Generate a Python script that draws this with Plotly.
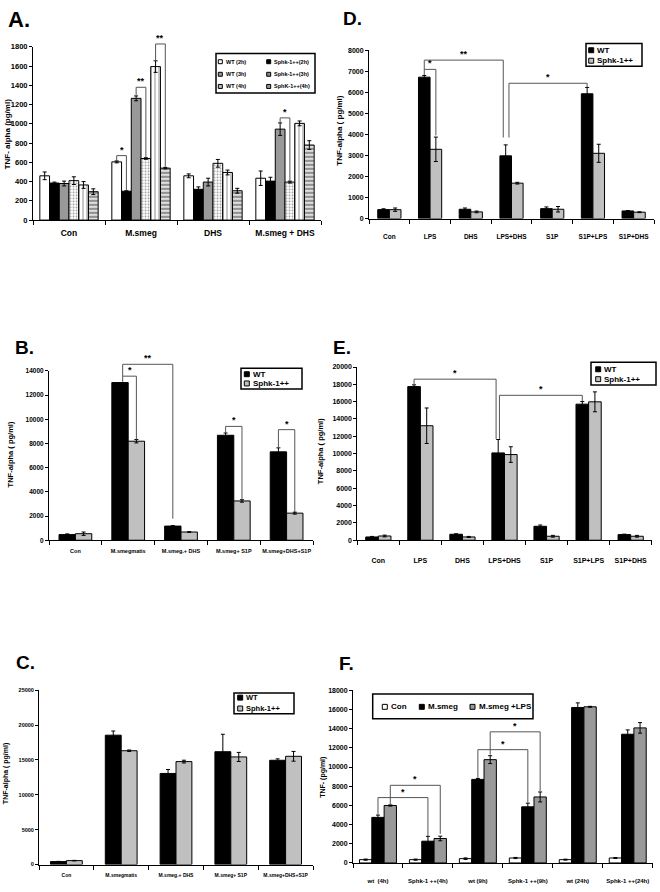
import plotly.graph_objects as go

W, H = 660, 892
FONT = "Liberation Sans"

# ---------------- DATA ----------------
# Panel A
a_cats = ["Con", "M.smeg", "DHS", "M.smeg + DHS"]
a_wt2h = [460, 605, 460, 435]
a_wt2h_err = [40, 10, 20, 75]
a_sp2h = [385, 300, 320, 405]
a_sp2h_err = [10, 5, 25, 40]
a_wt3h = [380, 1265, 395, 945]
a_wt3h_err = [25, 25, 40, 65]
a_sp3h = [410, 640, 590, 395]
a_sp3h_err = [40, 8, 40, 10]
a_wt4h = [365, 1595, 495, 1005]
a_wt4h_err = [35, 60, 25, 25]
a_sp4h = [295, 540, 305, 780]
a_sp4h_err = [30, 8, 25, 45]

# Panel D
d_cats = ["Con", "LPS", "DHS", "LPS+DHS", "S1P", "S1P+LPS", "S1P+DHS"]
d_wt = [423, 6720, 440, 2980, 470, 5930, 360]
d_wt_err = [40, 80, 60, 520, 80, 300, 20]
d_sp = [420, 3290, 315, 1680, 440, 3100, 300]
d_sp_err = [80, 580, 40, 40, 130, 430, 20]

# Panel B
b_cats = ["Con", "M.smegmatis", "M.smeg.+ DHS", "M.smeg+ S1P", "M.smeg+DHS+S1P"]
b_wt = [464, 13040, 1170, 8680, 7310]
b_wt_err = [60, 0, 40, 190, 330]
b_sp = [540, 8190, 680, 3250, 2240]
b_sp_err = [140, 140, 30, 100, 80]

# Panel E
e_cats = ["Con", "LPS", "DHS", "LPS+DHS", "S1P", "S1P+LPS", "S1P+DHS"]
e_wt = [380, 17740, 690, 10080, 1610, 15710, 650]
e_wt_err = [60, 200, 60, 1550, 150, 300, 50]
e_sp = [490, 13220, 380, 9890, 460, 15980, 460]
e_sp_err = [100, 2050, 60, 900, 100, 1150, 100]

# Panel C
c_cats = ["Con", "M.smegmatis", "M.smeg.+ DHS", "M.smeg+ S1P", "M.smeg+DHS+S1P"]
c_wt = [426, 18560, 13070, 16190, 14960]
c_wt_err = [30, 600, 570, 2500, 200]
c_sp = [560, 16330, 14770, 15440, 15530]
c_sp_err = [40, 100, 200, 650, 700]

# Panel F
f_cats = ["wt  (4h)", "Sphk-1 ++(4h)", "wt (9h)", "Sphk-1 ++(9h)", "wt (24h)", "Sphk-1 ++(24h)"]
f_con = [344, 344, 447, 516, 344, 516]
f_con_err = [60, 60, 80, 60, 50, 50]
f_ms = [4750, 2270, 8710, 5850, 16210, 13420]
f_ms_err = [240, 500, 100, 380, 480, 450]
f_lps = [5990, 2550, 10770, 6880, 16280, 14080]
f_lps_err = [60, 240, 410, 520, 50, 550]

# ---------------- HELPERS ----------------
fig = go.Figure()
shapes = []
annotations = []


def X(p):
    return p / W


def Y(p):
    return 1 - p / H


def bold(size):
    return dict(family=FONT, size=size, color="black", weight="bold")


def add_panel(n, cats, series, box, ymax, dtick, bargap, xfont, yfont, standoff,
              brackets, letter, ytitle, legend):
    x0, x1, yt, yb = box
    ax = "" if n == 1 else str(n)
    nser = len(series)
    w = (1 - bargap) / nser
    centers = []
    for k, s in enumerate(series):
        off = -(1 - bargap) / 2 + k * w
        centers.append(off + w / 2)
        marker = dict(color=s["color"], line=dict(color="black", width=1))
        if s.get("pattern"):
            marker["pattern"] = s["pattern"]
        fig.add_trace(go.Bar(
            x=cats, y=s["y"], name=s["name"], width=w, offset=off,
            marker=marker,
            error_y=dict(type="data", array=s["err"], visible=True, color="black",
                         thickness=1, width=2),
            xaxis="x" + ax, yaxis="y" + ax, showlegend=False,
        ))
    fig.layout["xaxis" + ax] = dict(
        domain=[X(x0), X(x1)], anchor="y" + ax, type="category",
        range=[-0.5, len(cats) - 0.5], showline=True, linecolor="black", linewidth=1,
        ticks="outside", tickson="boundaries", ticklen=4, tickcolor="black",
        tickangle=0, tickfont=bold(xfont), ticklabelstandoff=int(standoff),
        showgrid=False, zeroline=False)
    fig.layout["yaxis" + ax] = dict(
        domain=[Y(yb), Y(yt)], anchor="x" + ax, range=[0, ymax],
        dtick=dtick, tick0=0, tickformat="d", showline=True, linecolor="black",
        linewidth=1, ticks="outside", ticklen=3, tickcolor="black",
        tickfont=bold(yfont), showgrid=False, zeroline=False)

    # significance brackets
    for br in brackets:
        (cl, bl, sl), (cr, brr, sr), yl, ytop, yr, lab = br
        xl = cl + centers[bl] + sl
        xr = cr + centers[brr] + sr
        fl, ft, fr = yl / ymax, ytop / ymax, yr / ymax
        lc = dict(color="#555555", width=1)
        for (xa, ya, xb, yb2) in [(xl, fl, xl, ft), (xl, ft, xr, ft), (xr, ft, xr, fr)]:
            shapes.append(dict(type="line", xref="x" + ax, yref="y" + ax + " domain",
                               x0=xa, y0=ya, x1=xb, y1=yb2, line=lc, layer="above"))
        annotations.append(dict(x=(xl + xr) / 2, y=ft, xref="x" + ax,
                                yref="y" + ax + " domain", text=lab, showarrow=False,
                                yanchor="bottom", yshift=-1, font=bold(9)))

    # panel letter
    lx, ly, lsize, ltext = letter
    annotations.append(dict(x=X(lx), y=Y(ly), xref="paper", yref="paper",
                            text=ltext, showarrow=False, xanchor="left",
                            yanchor="middle", font=bold(lsize)))
    # y title
    tx, ty, tsize, ttext = ytitle
    annotations.append(dict(x=X(tx), y=Y(ty), xref="paper", yref="paper",
                            text=ttext, showarrow=False, textangle=-90,
                            xanchor="center", yanchor="middle", font=bold(tsize)))
    # legend (drawn manually)
    (bx0, by0, bx1, by1), fsize, sw, entries = legend
    shapes.append(dict(type="rect", xref="paper", yref="paper", x0=X(bx0),
                       x1=X(bx1), y0=Y(by1), y1=Y(by0),
                       line=dict(color="black", width=1.5), fillcolor="white",
                       layer="above"))
    for (sx, sy, col, label) in entries:
        shapes.append(dict(type="rect", xref="paper", yref="paper", x0=X(sx),
                           x1=X(sx + sw), y0=Y(sy + sw / 2), y1=Y(sy - sw / 2),
                           line=dict(color="black", width=1), fillcolor=col,
                           layer="above"))
        annotations.append(dict(x=X(sx + sw + 1.5), y=Y(sy), xref="paper",
                                yref="paper", text=label, showarrow=False,
                                xanchor="left", yanchor="middle", font=bold(fsize)))


WT_C, SP_C, GR_C = "#000000", "#c0c0c0", "#999999"

# ---------------- PANEL A ----------------
a_series = [
    dict(name="WT (2h)", y=a_wt2h, err=a_wt2h_err, color="white"),
    dict(name="Sphk-1++(2h)", y=a_sp2h, err=a_sp2h_err, color="black"),
    dict(name="WT (3h)", y=a_wt3h, err=a_wt3h_err, color=GR_C),
    dict(name="Sphk-1++(3h)", y=a_sp3h, err=a_sp3h_err, color="white",
         pattern=dict(shape=".", fgcolor="#444444", bgcolor="white", size=3, solidity=0.35)),
    dict(name="WT (4h)", y=a_wt4h, err=a_wt4h_err, color="white",
         pattern=dict(shape="|", fgcolor="#222222", bgcolor="white", size=4, solidity=0.25)),
    dict(name="SphK-1++(4h)", y=a_sp4h, err=a_sp4h_err, color="white",
         pattern=dict(shape="-", fgcolor="#333333", bgcolor="#dddddd", size=4, solidity=0.45)),
]
add_panel(1, a_cats, a_series, (33, 321, 43.3, 218.3), 1800, 200, 0.19, 8.5, 7.5, 5,
          [((1, 0, 0), (1, 1, 0), 620, 670, 310, "*"),
           ((1, 2, 0), (1, 3, 0), 1295, 1380, 655, "**"),
           ((1, 4, 0), (1, 5, 0), 1660, 1830, 555, "**"),
           ((3, 2, 0), (3, 3, 0), 1015, 1062, 410, "*")],
          (6, 16, 22, "A."), (7, 131.7, 8, "TNF- alpha (pg/ml)"),
          ((216, 50, 315, 90), 5.5, 4,
           [(218.3, 58.3, "white", "WT (2h)"), (266.7, 58.3, "black", "Sphk-1++(2h)"),
            (218.3, 71, GR_C, "WT (3h)"), (266.7, 71, "#888888", "Sphk-1++(3h)"),
            (218.3, 83.3, "#bbbbbb", "WT (4h)"), (266.7, 83.3, "#999999", "SphK-1++(4h)")]))

# ---------------- PANEL D ----------------
d_series = [dict(name="WT", y=d_wt, err=d_wt_err, color=WT_C),
            dict(name="Sphk-1++", y=d_sp, err=d_sp_err, color=SP_C)]
add_panel(2, d_cats, d_series, (369, 654, 46.7, 216.7), 8000, 1000, 0.43, 6.5, 7, 12,
          [((1, 0, 0), (1, 1, 0), 6820, 7090, 3950, "*"),
           ((1, 0, 0), (3, 0, -0.06), 7090, 7530, 3850, "**"),
           ((3, 0, 0.08), (5, 0, 0), 3850, 6430, 6240, "*")],
          (341, 15, 19, "D."), (340, 128, 8, "TNF-alpha ( pg/ml)"),
          ((586, 40, 642, 63), 8, 5,
           [(588.7, 46.7, WT_C, "WT"), (588.7, 57.3, SP_C, "Sphk-1++")]))

# ---------------- PANEL B ----------------
b_series = [dict(name="WT", y=b_wt, err=b_wt_err, color=WT_C),
            dict(name="Sphk-1++", y=b_sp, err=b_sp_err, color=SP_C)]
add_panel(3, b_cats, b_series, (49, 313, 370.7, 541.7), 14000, 2000, 0.38, 5.5, 6.5, 5,
          [((1, 0, 0.05), (1, 1, 0), 13100, 13570, 8330, "*"),
           ((1, 0, 0.05), (2, 0, 0), 13570, 14550, 1780, "**"),
           ((3, 0, 0), (3, 1, 0), 8870, 9415, 3350, "*"),
           ((4, 0, 0), (4, 1, 0), 7640, 9145, 2320, "*")],
          (13, 347, 19, "B."), (10, 455, 7.5, "TNF-alpha ( pg/ml)"),
          ((241, 368, 302, 389), 8, 5,
           [(244.3, 374, WT_C, "WT"), (244.3, 383.3, SP_C, "Sphk-1++")]))

# ---------------- PANEL E ----------------
e_series = [dict(name="WT", y=e_wt, err=e_wt_err, color=WT_C),
            dict(name="Sphk-1++", y=e_sp, err=e_sp_err, color=SP_C)]
add_panel(4, e_cats, e_series, (357.3, 651.7, 366.7, 541.7), 20000, 2000, 0.40, 7, 7, 13,
          [((1, 0, 0), (3, 0, -0.05), 17950, 18594, 11700, "*"),
           ((3, 0, 0.03), (5, 0, 0), 11700, 16730, 16050, "*")],
          (331, 347, 19, "E."), (320, 451.7, 7.5, "TNF-alpha ( pg/ml)"),
          ((591, 362, 656, 385), 8, 5,
           [(595.7, 369, WT_C, "WT"), (595.7, 379, SP_C, "Sphk-1++")]))

# ---------------- PANEL C ----------------
c_series = [dict(name="WT", y=c_wt, err=c_wt_err, color=WT_C),
            dict(name="Sphk-1++", y=c_sp, err=c_sp_err, color=SP_C)]
add_panel(5, c_cats, c_series, (39, 313, 693.3, 869.3), 25000, 5000, 0.42, 5, 5.5, 5,
          [],
          (14, 665, 19, "C."), (6, 778, 7, "TNF-alpha ( pg/ml)"),
          ((234, 696, 294, 717), 7.5, 5,
           [(237.7, 700.7, WT_C, "WT"), (237.7, 711.7, SP_C, "Sphk-1++")]))

# ---------------- PANEL F ----------------
f_series = [dict(name="Con", y=f_con, err=f_con_err, color="white"),
            dict(name="M.smeg", y=f_ms, err=f_ms_err, color=WT_C),
            dict(name="M.smeg +LPS", y=f_lps, err=f_lps_err, color=GR_C)]
add_panel(6, f_cats, f_series, (353, 652.7, 693.3, 867.7), 18000, 2000, 0.26, 6, 7, 12,
          [((0, 1, 0), (1, 1, 0), 5050, 6815, 2790, "*"),
           ((0, 2, 0), (1, 2, 0), 6130, 8093, 3030, "*"),
           ((2, 1, 0), (3, 1, 0), 8880, 11811, 6300, "*"),
           ((2, 2, 0), (3, 2, 0), 11300, 13670, 7500, "*")],
          (337, 666, 19, "F."), (323, 781.7, 7, "TNF- (pg/ml)"),
          ((372.7, 697, 533, 722), 8, 5,
           [(382.3, 710, "white", "Con"), (419.3, 710, WT_C, "M.smeg"),
            (470, 710, GR_C, "M.smeg +LPS")]))

fig.update_layout(
    width=W, height=H, margin=dict(l=0, r=0, t=0, b=0),
    paper_bgcolor="white", plot_bgcolor="white",
    barmode="group", showlegend=False,
    shapes=shapes, annotations=annotations,
    font=dict(family=FONT, color="black"),
)

# remove the browser's default 8px page margin so the figure fills the window
fig.write_html("out.html", config={"displayModeBar": False},
               post_script="document.body.style.margin='0px';")
